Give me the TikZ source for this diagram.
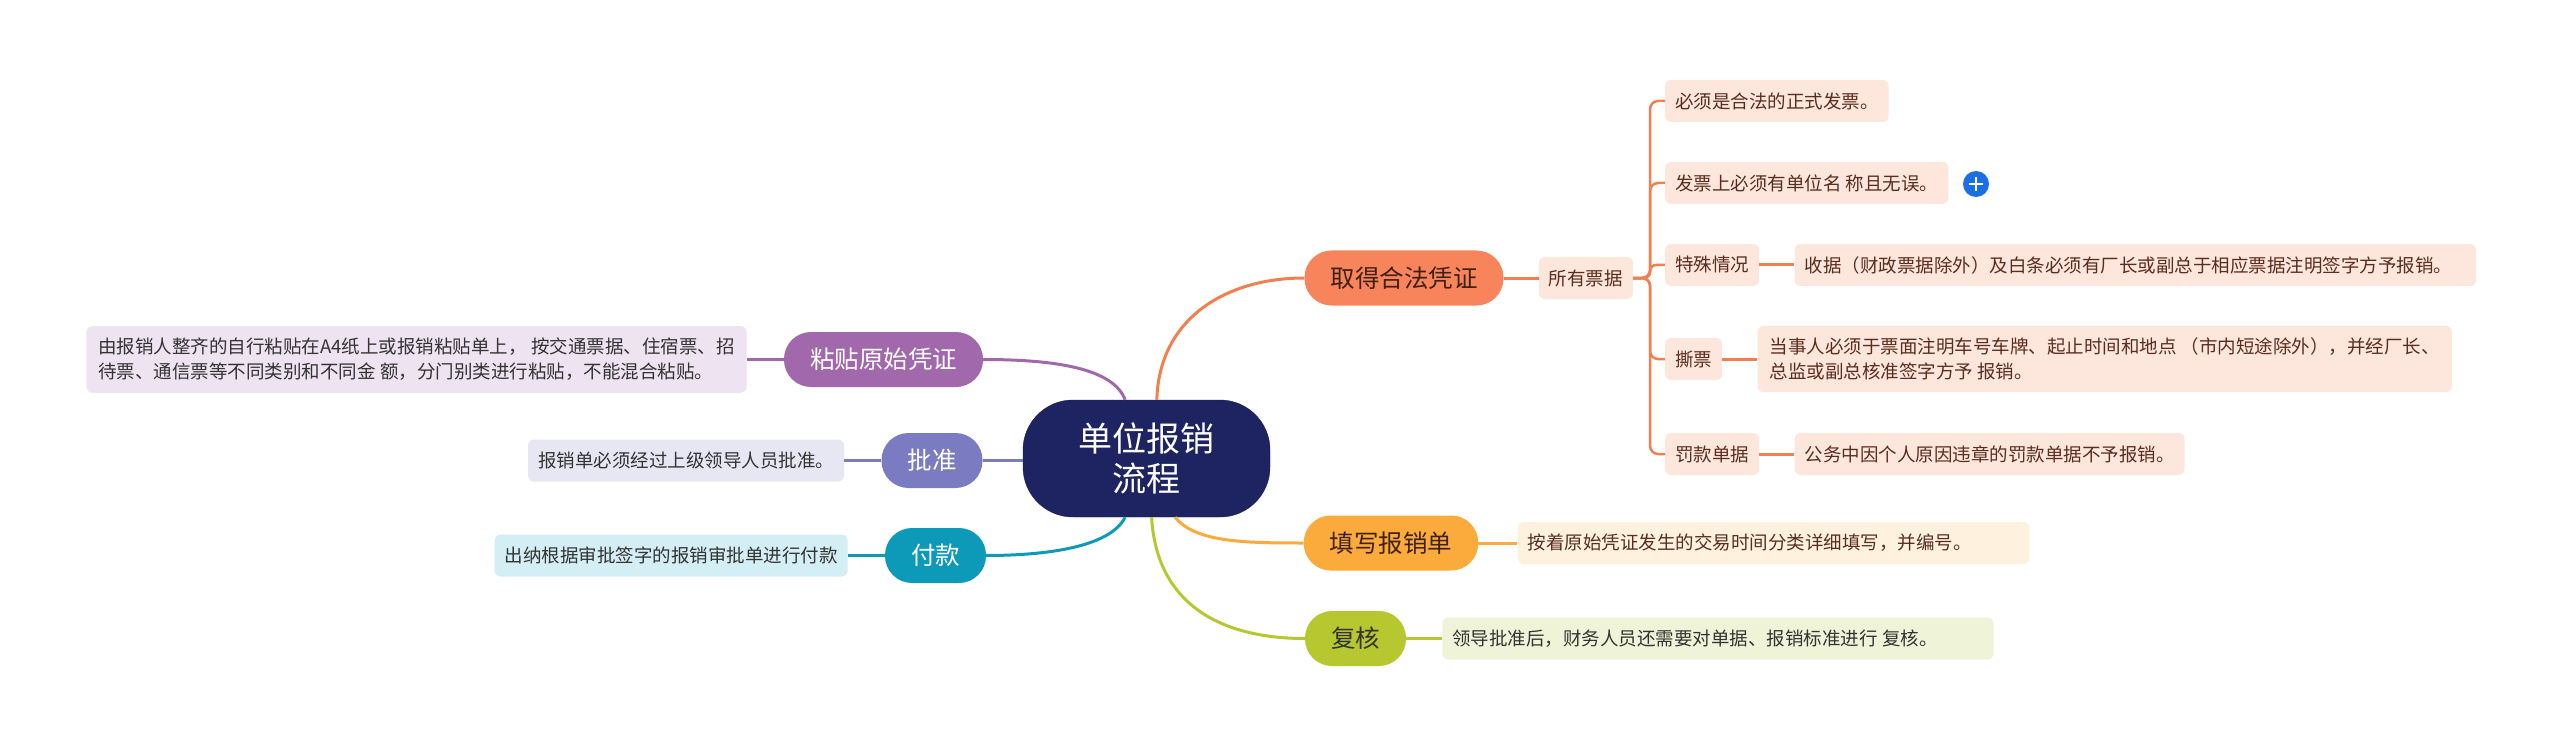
\documentclass[tikz,border=0pt]{standalone}
\usepackage{fontspec}
\setmainfont{Noto Sans CJK SC}
\usepackage{tikz}
\usetikzlibrary{positioning}

\definecolor{rootblue}{HTML}{1E2462}
\definecolor{orangeT}{HTML}{F7845A}
\definecolor{orangeL}{HTML}{F0804F}
\definecolor{orangeF}{HTML}{FDE6DC}
\definecolor{orangeX}{HTML}{5A2E1E}
\definecolor{purpleT}{HTML}{A268AC}
\definecolor{purpleF}{HTML}{EEE4F1}
\definecolor{slateT}{HTML}{7B7BC2}
\definecolor{slateF}{HTML}{E7E6F3}
\definecolor{tealT}{HTML}{0D9AB8}
\definecolor{tealF}{HTML}{D3EEF4}
\definecolor{goldT}{HTML}{FBAB3B}
\definecolor{goldF}{HTML}{FEF2DF}
\definecolor{limeT}{HTML}{B7C72F}
\definecolor{limeF}{HTML}{EFF4D8}
\definecolor{darktext}{HTML}{333333}
\definecolor{plusblue}{HTML}{1C6FE3}

\begin{document}
\begin{tikzpicture}[x=1pt, y=-1pt,
      root/.style={fill=rootblue, draw=rootblue!80!black, text=white, rounded corners=50pt,
        minimum width=247pt, minimum height=117pt, align=center,
        font=\fontsize{34}{40}\selectfont},
      topic/.style={rounded corners=27pt, minimum height=55pt, inner xsep=26pt, inner ysep=0pt,
        font=\fontsize{24.5}{28}\selectfont},
      leaf/.style={rounded corners=6pt, minimum height=42pt, inner xsep=10pt, inner ysep=0pt,
        font=\fontsize{18.5}{25}\selectfont},
      tall/.style={inner xsep=12pt, inner ysep=12pt, align=left},
      branch/.style={line width=3pt}]
      \useasboundingbox (0,0) rectangle (2560,746);

      \node[root] (root) at (1146.5,458.5) {单位报销\\流程};

      % right side
      \node[topic, fill=orangeT, text=orangeX!70!black] (proof) at (1404,278) {取得合法凭证};
      \node[leaf, fill=orangeF, text=orangeX, right=35pt of proof] (bills) {所有票据};
      \node[leaf, fill=orangeF, text=orangeX, anchor=west] (rule1) at (1665,101) {必须是合法的正式发票。};
      \node[leaf, fill=orangeF, text=orangeX, anchor=west] (rule2) at (1665,183) {发票上必须有单位名 称且无误。};
      \node[leaf, fill=orangeF, text=orangeX, anchor=west] (special) at (1665,265) {特殊情况};
      \node[leaf, fill=orangeF, text=orangeX, right=35pt of special] (specialtxt) {收据（财政票据除外）及白条必须有厂长或副总于相应票据注明签字方予报销。\hspace*{14pt}};
      \node[leaf, fill=orangeF, text=orangeX, anchor=west] (torn) at (1665,359) {撕票};
      \node[leaf, tall, fill=orangeF, text=orangeX, right=35pt of torn] (torntxt) {当事人必须于票面注明车号车牌、起止时间和地点 （市内短途除外），并经厂长、\\总监或副总核准签字方予 报销。};
      \node[leaf, fill=orangeF, text=orangeX, anchor=west] (fine) at (1665,454) {罚款单据};
      \node[leaf, fill=orangeF, text=orangeX, right=35pt of fine] (finetxt) {公务中因个人原因违章的罚款单据不予报销。};
      \node[circle, fill=plusblue, minimum size=26pt, inner sep=0pt] (plus) at (1976,184) {};
      \draw[white, line width=2.5pt] (plus.center) ++(-7,0) -- ++(14,0);
      \draw[white, line width=2.5pt] (plus.center) ++(0,-7) -- ++(0,14);

      \node[topic, fill=goldT, text=orangeX!70!black] (fill) at (1391,543) {填写报销单};
      \node[leaf, fill=goldF, text=orangeX, right=39pt of fill] (filltxt) {按着原始凭证发生的交易时间分类详细填写，并编号。\hspace*{48pt}};
      \node[topic, fill=limeT, text=darktext] (review) at (1355.5,638.5) {复核};
      \node[leaf, fill=limeF, text=darktext, right=36pt of review] (reviewtxt) {领导批准后，财务人员还需要对单据、报销标准进行 复核。\hspace*{46pt}};

      % left side
      \node[topic, fill=purpleT, text=white] (paste) at (883.5,359.5) {粘贴原始凭证};
      \node[leaf, tall, fill=purpleF, text=darktext, left=37pt of paste] (pastetxt) {由报销人整齐的自行粘贴在A4纸上或报销粘贴单上， 按交通票据、住宿票、招\\待票、通信票等不同类别和不同金 额，分门别类进行粘贴，不能混合粘贴。};
      \node[topic, fill=slateT, text=white] (approve) at (932,460.5) {批准};
      \node[leaf, fill=slateF, text=darktext, left=37pt of approve] (approvetxt) {报销单必须经过上级领导人员批准。};
      \node[topic, fill=tealT, text=white] (pay) at (935.5,555.5) {付款};
      \node[leaf, fill=tealF, text=darktext, left=37pt of pay] (paytxt) {出纳根据审批签字的报销审批单进行付款};

      % branches
      \draw[branch, orangeL] (root.80) .. controls +(2,-80) and +(-80,0) .. (proof.west);
      \draw[branch, purpleT] (root.110) .. controls +(-12,-32) and +(70,0) .. (paste.east);
      \draw[branch, slateT] (approve.east) -- (approve.east -| root.west);
      \draw[branch, tealT] (root.250) .. controls +(-15,30) and +(60,0) .. (pay.east);
      \draw[branch, goldT] (root.296) .. controls +(20,25) and +(-60,0) .. (fill.west);
      \draw[branch, limeT] (root.275) .. controls +(5,90) and +(-80,0) .. (review.west);

      \draw[branch, orangeL] (proof.east) -- (bills.west);
      \draw[line width=2.5pt, orangeL, rounded corners=8pt] (bills.east) -- ++(17,0) |- (rule1.west);
      \draw[line width=2.5pt, orangeL, rounded corners=8pt] (bills.east) -- ++(17,0) |- (rule2.west);
      \draw[line width=2.5pt, orangeL, rounded corners=6pt] (bills.east) -- ++(17,0) |- (special.west);
      \draw[line width=2.5pt, orangeL, rounded corners=8pt] (bills.east) -- ++(17,0) |- (torn.west);
      \draw[line width=2.5pt, orangeL, rounded corners=8pt] (bills.east) -- ++(17,0) |- (fine.west);
      \draw[branch, orangeL] (special.east) -- (specialtxt.west);
      \draw[branch, orangeL] (torn.east) -- (torntxt.west);
      \draw[branch, orangeL] (fine.east) -- (finetxt.west);
      \draw[branch, goldT] (fill.east) -- (filltxt.west);
      \draw[branch, limeT] (review.east) -- (reviewtxt.west);
      \draw[branch, purpleT] (paste.west) -- (pastetxt.east);
      \draw[branch, slateT] (approve.west) -- (approvetxt.east);
      \draw[branch, tealT] (pay.west) -- (paytxt.east);
    \end{tikzpicture}
\end{document}
